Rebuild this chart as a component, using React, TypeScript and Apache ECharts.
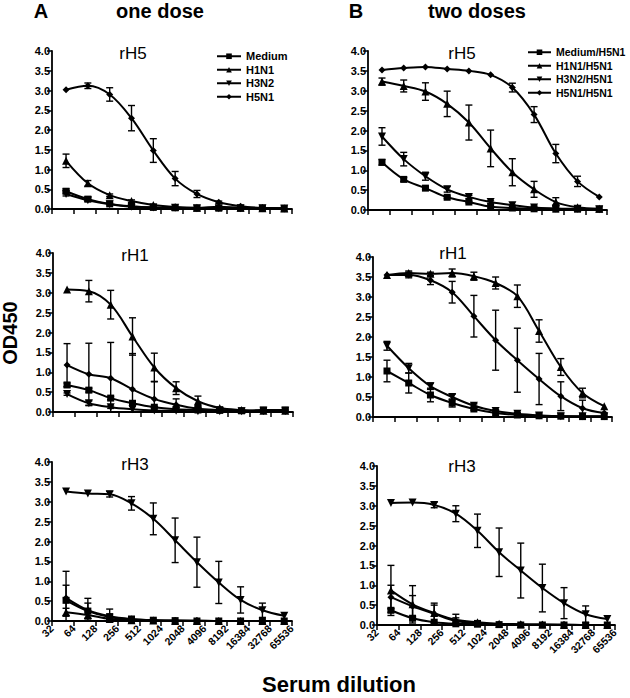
import React, { useEffect, useRef } from "react";
import * as echarts from "echarts";

const FONT = "'Liberation Sans', Arial, Helvetica, sans-serif";

// serum dilutions measured (log2 axis from 32 to 65536)
const DILUTIONS = [50, 100, 200, 400, 800, 1600, 3200, 6400, 12800, 25600, 51200];
const X_TICK_LABELS = ["32", "64", "128", "256", "512", "1024", "2048", "4096", "8192", "16384", "32768", "65536"];
const Y_TICKS = [0, 0.5, 1, 1.5, 2, 2.5, 3, 3.5, 4];

const NAMES_A = ["Medium", "H1N1", "H3N2", "H5N1"];
const NAMES_B = ["Medium/H5N1", "H1N1/H5N1", "H3N2/H5N1", "H5N1/H5N1"];

// ---- A: one dose, rH5
const A_H5_medium = [0.45, 0.25, 0.13, 0.07, 0.04, 0.03, 0.02, 0.02, 0.02, 0.02, 0.01];
const A_H5_medium_err = [0.06, 0.04, 0.02, 0, 0, 0, 0, 0, 0, 0, 0];
const A_H5_h1n1 = [1.22, 0.65, 0.35, 0.2, 0.1, 0.05, 0.03, 0.06, 0.03, 0.02, 0.01];
const A_H5_h1n1_err = [0.17, 0.07, 0.03, 0.03, 0.02, 0, 0, 0, 0, 0, 0];
const A_H5_h3n2 = [0.38, 0.22, 0.12, 0.06, 0.04, 0.03, 0.02, 0.02, 0.02, 0.02, 0.01];
const A_H5_h3n2_err = [0.05, 0.03, 0, 0, 0, 0, 0, 0, 0, 0, 0];
const A_H5_h5n1 = [3.02, 3.12, 2.9, 2.3, 1.48, 0.77, 0.38, 0.17, 0.07, 0.03, 0.02];
const A_H5_h5n1_err = [0, 0.07, 0.17, 0.32, 0.3, 0.18, 0.09, 0.03, 0.02, 0, 0];

// ---- A: one dose, rH1
const A_H1_medium = [0.68, 0.55, 0.35, 0.22, 0.12, 0.07, 0.05, 0.04, 0.03, 0.05, 0.05];
const A_H1_medium_err = [0.05, 0.05, 0.04, 0.03, 0.02, 0, 0, 0, 0, 0.02, 0.02];
const A_H1_h1n1 = [3.08, 3.04, 2.7, 1.9, 1.12, 0.6, 0.27, 0.1, 0.05, 0.03, 0.03];
const A_H1_h1n1_err = [0, 0.27, 0.36, 0.47, 0.36, 0.16, 0.13, 0.03, 0, 0, 0];
const A_H1_h3n2 = [0.45, 0.22, 0.12, 0.07, 0.04, 0.03, 0.02, 0.02, 0.02, 0.03, 0.03];
const A_H1_h3n2_err = [0.03, 0.06, 0.03, 0, 0, 0, 0, 0, 0, 0, 0];
const A_H1_h5n1 = [1.18, 0.95, 0.85, 0.57, 0.33, 0.18, 0.08, 0.05, 0.03, 0.02, 0.02];
const A_H1_h5n1_err = [0.54, 0.78, 0.9, 0.9, 0.44, 0.15, 0.08, 0.02, 0, 0, 0];

// ---- A: one dose, rH3
const A_H3_medium = [0.52, 0.25, 0.1, 0.04, 0.02, 0.01, 0, 0, 0, 0, 0];
const A_H3_medium_err = [0.38, 0.2, 0.08, 0.02, 0, 0, 0, 0, 0, 0, 0];
const A_H3_h1n1 = [0.22, 0.15, 0.05, 0.02, 0.01, 0, 0, 0, 0, 0, 0];
const A_H3_h1n1_err = [0.1, 0.08, 0.02, 0, 0, 0, 0, 0, 0, 0, 0];
const A_H3_h3n2 = [3.26, 3.21, 3.19, 2.96, 2.57, 2.03, 1.48, 0.97, 0.53, 0.27, 0.13];
const A_H3_h3n2_err = [0, 0, 0.07, 0.17, 0.4, 0.56, 0.63, 0.53, 0.33, 0.18, 0];
const A_H3_h5n1 = [0.58, 0.27, 0.12, 0.05, 0.02, 0.01, 0.01, 0, 0, 0, 0];
const A_H3_h5n1_err = [0.67, 0.3, 0.18, 0.07, 0.02, 0, 0, 0, 0, 0, 0];

// ---- B: two doses, rH5
const B_H5_medium = [1.2, 0.77, 0.55, 0.32, 0.2, 0.08, 0.05, 0.03, 0.02, 0.02, 0.02];
const B_H5_medium_err = [0.07, 0.05, 0.03, 0.03, 0.02, 0, 0, 0, 0, 0, 0];
const B_H5_h1n1 = [3.23, 3.12, 2.98, 2.67, 2.2, 1.55, 0.95, 0.52, 0.2, 0.07, 0.03];
const B_H5_h1n1_err = [0.09, 0.15, 0.22, 0.32, 0.44, 0.46, 0.34, 0.2, 0.11, 0.02, 0];
const B_H5_h3n2 = [1.85, 1.28, 0.85, 0.52, 0.33, 0.2, 0.12, 0.06, 0.04, 0.03, 0.02];
const B_H5_h3n2_err = [0.22, 0.17, 0.1, 0.07, 0.04, 0.03, 0, 0, 0, 0, 0];
const B_H5_h5n1 = [3.52, 3.57, 3.6, 3.55, 3.5, 3.4, 3.08, 2.4, 1.42, 0.72, 0.33];
const B_H5_h5n1_err = [0, 0, 0, 0, 0, 0, 0.11, 0.2, 0.23, 0.13, 0];

// ---- B: two doses, rH1
const B_H1_medium = [1.15, 0.85, 0.55, 0.35, 0.2, 0.1, 0.05, 0.03, 0.02, 0.01, 0.01];
const B_H1_medium_err = [0.27, 0.25, 0.17, 0.1, 0.03, 0, 0, 0, 0, 0, 0];
const B_H1_h1n1 = [3.55, 3.6, 3.58, 3.6, 3.52, 3.35, 3.02, 2.15, 1.25, 0.6, 0.27];
const B_H1_h1n1_err = [0, 0.05, 0.04, 0.1, 0.1, 0.15, 0.28, 0.28, 0.21, 0.12, 0];
const B_H1_h3n2 = [1.78, 1.22, 0.77, 0.5, 0.28, 0.15, 0.08, 0.04, 0.02, 0.02, 0.02];
const B_H1_h3n2_err = [0.11, 0.12, 0.08, 0.07, 0.05, 0.03, 0.02, 0, 0, 0, 0];
const B_H1_h5n1 = [3.55, 3.55, 3.42, 3.12, 2.52, 1.92, 1.42, 0.95, 0.52, 0.22, 0.1];
const B_H1_h5n1_err = [0, 0.07, 0.11, 0.27, 0.52, 0.75, 0.8, 0.64, 0.36, 0.2, 0];

// ---- B: two doses, rH3
const B_H3_medium = [0.37, 0.17, 0.07, 0.03, 0.02, 0.01, 0, 0, 0, 0, 0];
const B_H3_medium_err = [0.05, 0.03, 0, 0, 0, 0, 0, 0, 0, 0, 0];
const B_H3_h1n1 = [0.87, 0.52, 0.3, 0.13, 0.07, 0.03, 0.02, 0.01, 0, 0, 0];
const B_H3_h1n1_err = [0.63, 0.47, 0.25, 0.14, 0.04, 0, 0, 0, 0, 0, 0];
const B_H3_h3n2 = [3.07, 3.08, 3.02, 2.8, 2.37, 1.83, 1.37, 0.93, 0.55, 0.27, 0.15];
const B_H3_h3n2_err = [0, 0, 0.07, 0.2, 0.42, 0.61, 0.69, 0.6, 0.39, 0.21, 0];
const B_H3_h5n1 = [0.7, 0.47, 0.28, 0.1, 0.05, 0.02, 0.01, 0.01, 0.01, 0, 0];
const B_H3_h5n1_err = [0.3, 0.27, 0.22, 0.08, 0.02, 0, 0, 0, 0, 0, 0];

const SYMBOLS = [
  { symbol: "rect", size: 7, rotate: 0 },
  { symbol: "triangle", size: 8, rotate: 0 },
  { symbol: "triangle", size: 8, rotate: 180 },
  { symbol: "diamond", size: 7, rotate: 0 },
];

const PANELS = [
  {
    title: "rH5", names: NAMES_A, grid: { left: 52, top: 51, width: 240, height: 158 }, titlePos: [133, 53], xLabels: false,
    values: [A_H5_medium, A_H5_h1n1, A_H5_h3n2, A_H5_h5n1], errs: [A_H5_medium_err, A_H5_h1n1_err, A_H5_h3n2_err, A_H5_h5n1_err],
  },
  {
    title: "rH1", names: NAMES_A, grid: { left: 53, top: 253, width: 240, height: 159 }, titlePos: [135, 255], xLabels: false,
    values: [A_H1_medium, A_H1_h1n1, A_H1_h3n2, A_H1_h5n1], errs: [A_H1_medium_err, A_H1_h1n1_err, A_H1_h3n2_err, A_H1_h5n1_err],
  },
  {
    title: "rH3", names: NAMES_A, grid: { left: 52, top: 462, width: 240, height: 159 }, titlePos: [135, 464], xLabels: true,
    values: [A_H3_medium, A_H3_h1n1, A_H3_h3n2, A_H3_h5n1], errs: [A_H3_medium_err, A_H3_h1n1_err, A_H3_h3n2_err, A_H3_h5n1_err],
  },
  {
    title: "rH5", names: NAMES_B, grid: { left: 368, top: 51, width: 239, height: 159 }, titlePos: [462, 53], xLabels: false,
    values: [B_H5_medium, B_H5_h1n1, B_H5_h3n2, B_H5_h5n1], errs: [B_H5_medium_err, B_H5_h1n1_err, B_H5_h3n2_err, B_H5_h5n1_err],
  },
  {
    title: "rH1", names: NAMES_B, grid: { left: 373, top: 257, width: 239, height: 160 }, titlePos: [453, 253], xLabels: false,
    values: [B_H1_medium, B_H1_h1n1, B_H1_h3n2, B_H1_h5n1], errs: [B_H1_medium_err, B_H1_h1n1_err, B_H1_h3n2_err, B_H1_h5n1_err],
  },
  {
    title: "rH3", names: NAMES_B, grid: { left: 377, top: 466, width: 238, height: 159 }, titlePos: [462, 466], xLabels: true,
    values: [B_H3_medium, B_H3_h1n1, B_H3_h3n2, B_H3_h5n1], errs: [B_H3_medium_err, B_H3_h1n1_err, B_H3_h3n2_err, B_H3_h5n1_err],
  },
];

function errorBarRender(params: any, api: any) {
  const x = api.value(0);
  const v = api.value(1);
  const e = api.value(2);
  if (!e) return { type: "group", children: [] };
  const top = api.coord([x, v + e]);
  const bot = api.coord([x, Math.max(0, v - e)]);
  const hw = 3.5;
  const style = { stroke: "#000", lineWidth: 1.4 };
  return {
    type: "group",
    children: [
      { type: "line", shape: { x1: top[0], y1: top[1], x2: bot[0], y2: bot[1] }, style },
      { type: "line", shape: { x1: top[0] - hw, y1: top[1], x2: top[0] + hw, y2: top[1] }, style },
      { type: "line", shape: { x1: bot[0] - hw, y1: bot[1], x2: bot[0] + hw, y2: bot[1] }, style },
    ],
  };
}

export default function App() {
  const ref = useRef<HTMLDivElement>(null);
  useEffect(() => {
    if (!ref.current) return;
    const chart = echarts.init(ref.current, null, { renderer: "svg" });
    const axisLine = { show: true, lineStyle: { color: "#000", width: 1.8 } };
    const axisTick = { show: true, inside: false, length: 5, lineStyle: { color: "#000", width: 1.5 } };
    const labelStyle = { color: "#000", fontSize: 11, fontWeight: "bold" as const, fontFamily: FONT };

    const grids: any[] = [];
    const xAxes: any[] = [];
    const yAxes: any[] = [];
    const series: any[] = [];
    const graphics: any[] = [];

    PANELS.forEach((p, i) => {
      grids.push({ ...p.grid, containLabel: false });
      xAxes.push({
        type: "value", gridIndex: i, min: 5, max: 16, interval: 1,
        axisLine, axisTick, splitLine: { show: false },
        axisLabel: {
          show: p.xLabels, rotate: 45, margin: 6, ...labelStyle, fontSize: 10.5,
          formatter: (v: number) => X_TICK_LABELS[Math.round(v) - 5] ?? "",
        },
      });
      yAxes.push({
        type: "value", gridIndex: i, min: Y_TICKS[0], max: Y_TICKS[Y_TICKS.length - 1], interval: 0.5,
        axisLine, axisTick, splitLine: { show: false },
        axisLabel: { margin: 2, ...labelStyle, formatter: (v: number) => v.toFixed(1) },
      });
      p.values.forEach((vals, k) => {
        const sym = SYMBOLS[k];
        series.push({
          type: "line", name: p.names[k], xAxisIndex: i, yAxisIndex: i,
          data: vals.map((v, j) => [Math.log2(DILUTIONS[j]), v]),
          symbol: sym.symbol, symbolSize: sym.size, symbolRotate: sym.rotate,
          smooth: 0.35, showAllSymbol: true,
          lineStyle: { color: "#000", width: 2 }, itemStyle: { color: "#000" }, z: 3,
        });
        series.push({
          type: "custom", xAxisIndex: i, yAxisIndex: i, silent: true, z: 4,
          data: vals.map((v, j) => [Math.log2(DILUTIONS[j]), v, p.errs[k][j]]),
          renderItem: errorBarRender,
        });
      });
      graphics.push({
        type: "text", x: p.titlePos[0], y: p.titlePos[1],
        style: { text: p.title, fontSize: 17, fontFamily: FONT, fill: "#000", textAlign: "center", textVerticalAlign: "middle" },
      });
    });

    const head = { fontWeight: "bold", fontFamily: FONT, fill: "#000", textAlign: "center", textVerticalAlign: "middle" };
    graphics.push(
      { type: "text", x: 41, y: 11, style: { ...head, text: "A", fontSize: 20 } },
      { type: "text", x: 160, y: 11, style: { ...head, text: "one dose", fontSize: 20 } },
      { type: "text", x: 356, y: 11, style: { ...head, text: "B", fontSize: 20 } },
      { type: "text", x: 477, y: 11, style: { ...head, text: "two doses", fontSize: 20 } },
      { type: "text", x: 10, y: 333, rotation: Math.PI / 2, style: { ...head, text: "OD450", fontSize: 20 } },
      { type: "text", x: 339, y: 684, style: { ...head, text: "Serum dilution", fontSize: 22 } },
    );

    const legendBase = {
      orient: "vertical", itemWidth: 24, itemHeight: 7, itemGap: 1, padding: 0,
      textStyle: { color: "#000", fontSize: 11, fontWeight: "bold", fontFamily: FONT, lineHeight: 12.5 },
      selectedMode: false,
    };

    chart.setOption({
      animation: false,
      backgroundColor: "#fff",
      grid: grids,
      xAxis: xAxes,
      yAxis: yAxes,
      series,
      legend: [
        { ...legendBase, left: 216, top: 50, data: NAMES_A },
        {
          ...legendBase, left: 527, top: 46, itemWidth: 23, data: NAMES_B,
          textStyle: { ...legendBase.textStyle, fontSize: 10.5 },
        },
      ],
      graphic: graphics,
    });
    return () => chart.dispose();
  }, []);
  return <div ref={ref} style={{ position: "fixed", left: 0, top: 0, width: 630, height: 698 }} />;
}
